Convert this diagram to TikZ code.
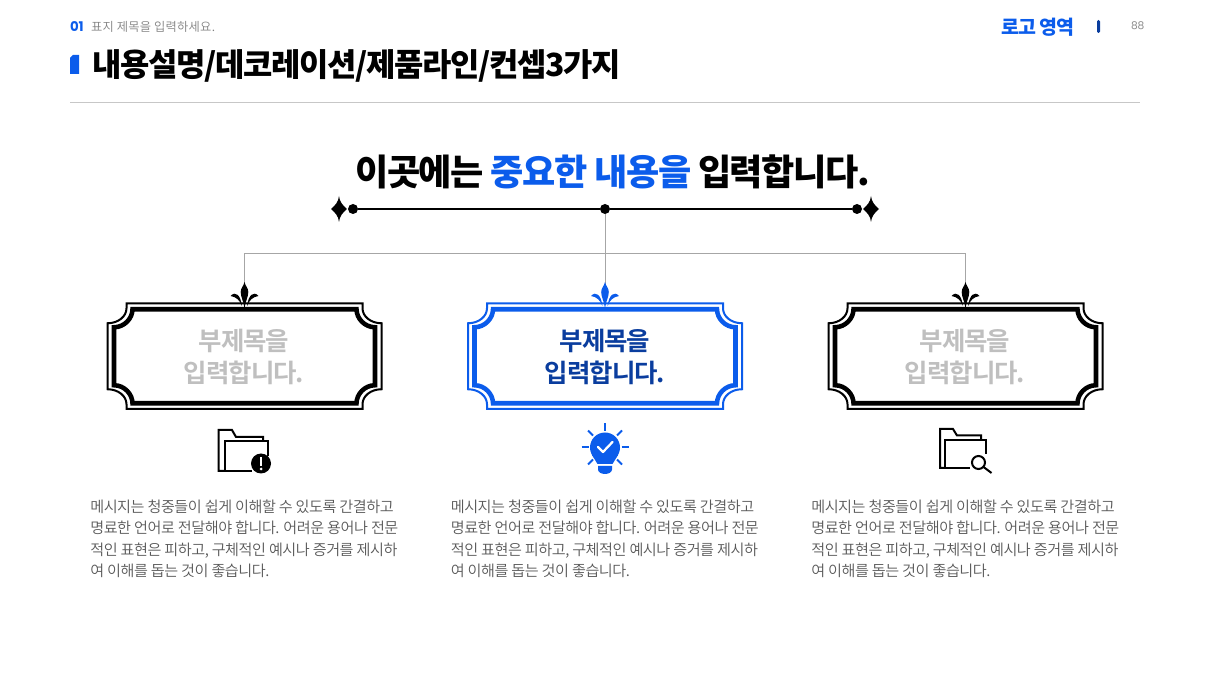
\documentclass[tikz,border=0pt]{standalone}
\usepackage{fontspec}
\setmainfont{Noto Sans CJK KR}
\newfontfamily\fblack[LetterSpace=-4]{Noto Sans CJK KR Black}
\newfontfamily\fbold[LetterSpace=-4]{Noto Sans CJK KR Bold}
\newfontfamily\flight[LetterSpace=-3]{Noto Sans CJK KR DemiLight}
\newfontfamily\fsmall[LetterSpace=2]{Noto Sans CJK KR DemiLight}
\newfontfamily\fpop{Poppins}
\definecolor{brand}{HTML}{0B5CEB}
\definecolor{deep}{HTML}{0A3D9E}
\definecolor{soft}{HTML}{BFBFBF}
\definecolor{bodygray}{HTML}{595959}
\newcommand{\fsz}[2]{\fontsize{#1}{#2}\selectfont}
\tikzset{
  lbl/.style={inner sep=0pt,outer sep=0pt,anchor=west},
  dot/.style={circle,fill=black,draw=none,minimum size=7.5pt,inner sep=0pt},
  branch/.style={draw=black!35,line width=0.6pt},
  thinframe/.style={line width=1.5pt},
  thickframe/.style={line width=3.4pt},
  subtitle/.style={inner sep=0pt,align=center,font=\fbold\fsz{19.1}{24}},
  bodytext/.style={inner sep=0pt,anchor=north west,align=left,text=bodygray,font=\flight\fsz{11.35}{16}},
  iconline/.style={line width=1.5pt,line join=miter},
}
% four-point star
\newcommand{\starmark}[2]{%
  \fill (#1,#2-13) .. controls (#1+0.6,#2-7) and (#1+3.5,#2-4) .. (#1+8,#2)
     .. controls (#1+3.5,#2+4) and (#1+0.6,#2+7) .. (#1,#2+13)
     .. controls (#1-0.6,#2+7) and (#1-3.5,#2+4) .. (#1-8,#2)
     .. controls (#1-3.5,#2-4) and (#1-0.6,#2-7) .. (#1,#2-13) -- cycle;}
% fleur ornament
\newcommand{\fleur}[2]{%
  \fill[#2] (#1,282) .. controls (#1+0.8,286) and (#1+3.8,288) .. (#1+3.8,292)
     .. controls (#1+3.8,297) and (#1+1,301) .. (#1,308)
     .. controls (#1-1,301) and (#1-3.8,297) .. (#1-3.8,292)
     .. controls (#1-3.8,288) and (#1-0.8,286) .. (#1,282) -- cycle;
  \fill[#2] (#1+14,296) .. controls (#1+9,290.5) and (#1+4,295) .. (#1+2.5,306)
     .. controls (#1+5,300) and (#1+8,297) .. (#1+14,296) -- cycle;
  \fill[#2] (#1-14,296) .. controls (#1-9,290.5) and (#1-4,295) .. (#1-2.5,306)
     .. controls (#1-5,300) and (#1-8,297) .. (#1-14,296) -- cycle;}
% double frame
\newcommand{\dframe}[2]{%
\begin{scope}[shift={(#1,356.25)},draw=#2]
 \draw[thinframe,line join=miter]
  (-118,-52.75) -- (118,-52.75) -- (118,-48)
  .. controls (118,-40) and (126,-33) .. (137,-33)
  -- (137,33) .. controls (126,33) and (118,40) .. (118,48) -- (118,52.75)
  -- (-118,52.75) -- (-118,48) .. controls (-118,40) and (-126,33) .. (-137,33)
  -- (-137,-33) .. controls (-126,-33) and (-118,-40) .. (-118,-48) -- cycle;
 \draw[thickframe,line join=miter]
  (-112,-47) -- (112,-47) .. controls (112,-38) and (120,-29) .. (130.5,-29)
  -- (130.5,29) .. controls (120,29) and (112,38) .. (112,47)
  -- (-112,47) .. controls (-112,38) and (-120,29) .. (-130.5,29)
  -- (-130.5,-29) .. controls (-120,-29) and (-112,-38) .. (-112,-47) -- cycle;
\end{scope}}
\begin{document}
\begin{tikzpicture}[x=0.75pt,y=-0.75pt]
\useasboundingbox (0,0) rectangle (1210,680);
% header
\node[lbl,text=brand,font=\fpop\bfseries\fsz{10}{12}] (num) at (70,26.5) {01};
\node[lbl,text=black!50,font=\fsmall\fsz{9.2}{12}] (sub) at (91,26.5) {표지 제목을 입력하세요.};
\fill[brand] (73,55) -- (79,55) -- (79,74) -- (70,74) -- (70,58) -- cycle;
\node[lbl,font=\fblack\fsz{23.9}{30}] (title) at (92,65.5) {내용설명/데코레이션/제품라인/컨셉3가지};
\node[lbl,text=brand,font=\fblack\fsz{14.6}{18}] (logo) at (1001,27.5) {로고 영역};
\fill[deep,rounded corners=1pt] (1097,20) rectangle (1100,33);
\node[lbl,text=black!45,font=\fpop\fsz{8}{10}] (page) at (1131,26) {88};
\draw[black!22,line width=0.75pt] (70,102.5) -- (1140,102.5);
% heading
\node[inner sep=0pt,font=\fblack\fsz{27.1}{32}] (head) at (612.5,171.5) {이곳에는 \textcolor{brand}{중요한 내용을} 입력합니다.};
% bar
\node[dot] (dl) at (353,209) {};
\node[dot] (dc) at (605,209) {};
\node[dot] (dr) at (857,209) {};
\draw[line width=1.6pt] (dl) -- (dc) -- (dr);
\starmark{339}{209}
\starmark{871}{209}
% connectors
\coordinate (hub) at (605,253);
\coordinate (fl) at (244,285);
\coordinate (fc) at (605,285);
\coordinate (fr) at (965,285);
\draw[branch] (dc) -- (fc);
\draw[branch] (hub) -| (fl);
\draw[branch] (hub) -| (fr);
% frames
\dframe{244.5}{black}
\dframe{605}{brand}
\dframe{965.5}{black}
\fleur{244.5}{black}
\fleur{605}{brand}
\fleur{965.5}{black}
\node[subtitle,text=soft] (t1) at (244,357) {부제목을\\입력합니다.};
\node[subtitle,text=deep] (t2) at (605,357) {부제목을\\입력합니다.};
\node[subtitle,text=soft] (t3) at (965,357) {부제목을\\입력합니다.};
% folder alert
\draw[iconline] (225,471) -- (218.5,471) -- (218.5,430) -- (232,430) -- (236,437) -- (263,437) -- (263,441);
\draw[iconline] (252,471) -- (225,471) -- (225,441.5) -- (268,441.5) -- (268,456);
\fill (261,463.5) circle (10);
\fill[white] (259.8,457) rectangle (262.2,466);
\fill[white] (261,469) circle (1.5);
% bulb
\begin{scope}[brand]
\fill (605,447.5) circle (15);
\fill (592,455) -- (618,455) -- (612.5,464) -- (597.5,464) -- cycle;
\fill (598,466) -- (612,466) -- (612,469.5) .. controls (612,472) and (609,474) .. (605,474) .. controls (601,474) and (598,472) .. (598,469.5) -- cycle;
\draw[line width=1.5pt] (605,423.5) -- (605,431);
\draw[line width=1.5pt] (581.5,447.5) -- (588.5,447.5);
\draw[line width=1.5pt] (621.5,447.5) -- (628.5,447.5);
\draw[line width=1.5pt] (588,430.5) -- (593,435.5);
\draw[line width=1.5pt] (622,430.5) -- (617,435.5);
\draw[line width=1.5pt] (588,464.5) -- (593,459.5);
\draw[line width=1.5pt] (622,464.5) -- (617,459.5);
\draw[white,line width=1.7pt,line cap=round,line join=round] (598,447) -- (603,452) -- (612.5,442);
\end{scope}
% folder search
\draw[iconline] (945,468) -- (940,468) -- (940,429) -- (953,429) -- (957,435.5) -- (981,435.5) -- (981,440);
\draw[iconline] (970,468) -- (945,468) -- (945,440.5) -- (986,440.5) -- (986,454);
\draw[line width=1.5pt] (978.5,462.5) circle (6.5);
\draw[line width=1.5pt] (983.5,467) -- (991.5,473);
% body
\node[bodytext] (b1) at (90,499.7) {메시지는 청중들이 쉽게 이해할 수 있도록 간결하고\\명료한 언어로 전달해야 합니다. 어려운 용어나 전문\\적인 표현은 피하고, 구체적인 예시나 증거를 제시하\\여 이해를 돕는 것이 좋습니다.};
\node[bodytext] (b2) at (450.5,499.7) {메시지는 청중들이 쉽게 이해할 수 있도록 간결하고\\명료한 언어로 전달해야 합니다. 어려운 용어나 전문\\적인 표현은 피하고, 구체적인 예시나 증거를 제시하\\여 이해를 돕는 것이 좋습니다.};
\node[bodytext] (b3) at (811,499.7) {메시지는 청중들이 쉽게 이해할 수 있도록 간결하고\\명료한 언어로 전달해야 합니다. 어려운 용어나 전문\\적인 표현은 피하고, 구체적인 예시나 증거를 제시하\\여 이해를 돕는 것이 좋습니다.};
\end{tikzpicture}
\end{document}
